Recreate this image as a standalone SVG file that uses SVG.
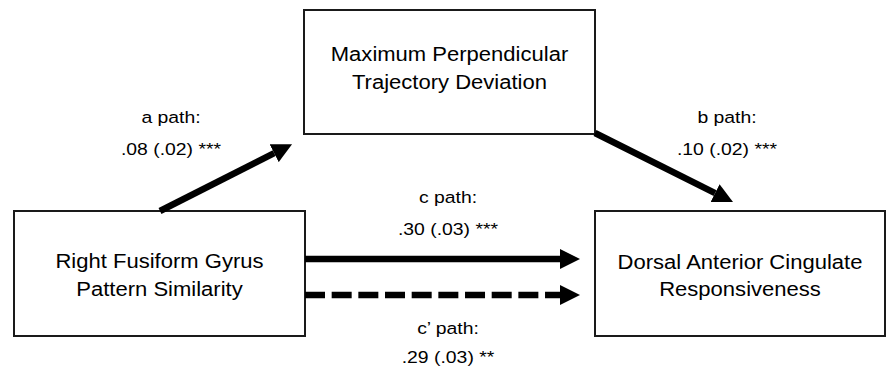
<svg xmlns="http://www.w3.org/2000/svg" width="887" height="376" viewBox="0 0 887 376">
  <style>
    .box { fill: #ffffff; stroke: #1a1a1a; stroke-width: 2; }
    .ntext { font-family: "Liberation Sans", Arial, sans-serif; font-size: 19.5px; fill: #000000; text-anchor: middle; }
    .ltext { font-family: "Liberation Sans", Arial, sans-serif; font-size: 17px; fill: #000000; text-anchor: middle; }
    .arrow { fill: none; stroke: #000000; stroke-width: 6.5; stroke-linecap: butt; }
    .dashed { stroke-dasharray: 20 6.67; }
  </style>
  <defs>
    <marker id="head" viewBox="0 0 20 20" refX="0" refY="10" markerUnits="userSpaceOnUse" markerWidth="20" markerHeight="20" orient="auto">
      <path d="M0,0 L20,10 L0,20 Z" fill="#000000"/>
    </marker>
  </defs>
  <rect width="887" height="376" fill="#ffffff"/>

  <g id="node-mediator">
    <rect class="box" x="304" y="10" width="291" height="124"/>
    <text class="ntext" transform="translate(449.5,0) scale(1.13,1)"><tspan x="0" y="61">Maximum Perpendicular</tspan><tspan x="0" y="89.5">Trajectory Deviation</tspan></text>
  </g>

  <g id="node-predictor">
    <rect class="box" x="14" y="211" width="291" height="125"/>
    <text class="ntext" transform="translate(159.5,0) scale(1.13,1)"><tspan x="0" y="268.5">Right Fusiform Gyrus</tspan><tspan x="0" y="296">Pattern Similarity</tspan></text>
  </g>

  <g id="node-outcome">
    <rect class="box" x="595" y="211" width="290" height="125"/>
    <text class="ntext" transform="translate(740,0) scale(1.13,1)"><tspan x="0" y="269">Dorsal Anterior Cingulate</tspan><tspan x="0" y="296">Responsiveness</tspan></text>
  </g>

  <g id="connectors">
    <line class="arrow" x1="160" y1="211" x2="274.2" y2="153.2" marker-end="url(#head)"/>
    <line class="arrow" x1="595" y1="133" x2="715.1" y2="193.1" marker-end="url(#head)"/>
    <line class="arrow" x1="305" y1="259" x2="560" y2="259" marker-end="url(#head)"/>
    <line class="arrow dashed" x1="305" y1="295" x2="560" y2="295" marker-end="url(#head)"/>
  </g>

  <g id="labels">
    <text class="ltext" transform="translate(171,0) scale(1.14,1)"><tspan x="0" y="123.5">a path:</tspan><tspan x="0" y="155">.08 (.02) ***</tspan></text>
    <text class="ltext" transform="translate(727,0) scale(1.14,1)"><tspan x="0" y="123.5">b path:</tspan><tspan x="0" y="155">.10 (.02) ***</tspan></text>
    <text class="ltext" transform="translate(448,0) scale(1.14,1)"><tspan x="0" y="203">c path:</tspan><tspan x="0" y="235">.30 (.03) ***</tspan></text>
    <text class="ltext" transform="translate(448,0) scale(1.14,1)"><tspan x="0" y="334">c’ path:</tspan><tspan x="0" y="363">.29 (.03) **</tspan></text>
  </g>
</svg>
